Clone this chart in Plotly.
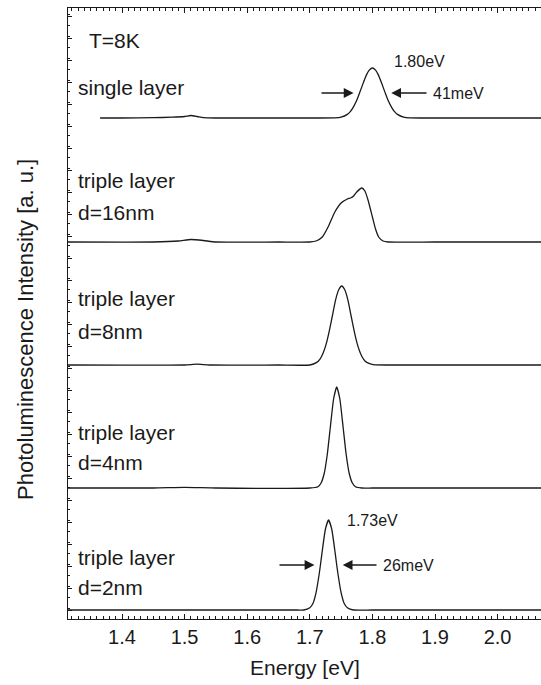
import plotly.graph_objects as go

# ---- photoluminescence spectra at T = 8 K (energy in eV, intensity in a.u. above each baseline)
single_E = [1.365, 1.40, 1.45, 1.48, 1.50, 1.51, 1.52, 1.53, 1.55, 1.60, 1.70, 1.74, 1.75,
            1.76, 1.765, 1.77, 1.775, 1.78, 1.785, 1.79, 1.795, 1.80, 1.805, 1.81, 1.815,
            1.82, 1.825, 1.83, 1.835, 1.84, 1.85, 1.86, 1.88, 1.95, 2.07]
single_I = [0, 0, 0.3, 0.8, 1.5, 2.5, 1.5, 0.3, 0, 0, 0, 0.1, 0.8,
            3.6, 6.6, 11.4, 17.7, 25.9, 34.4, 42.4, 47.9, 50, 47.9, 42.4, 34.4,
            25.9, 17.7, 11.4, 6.6, 3.6, 0.8, 0.1, 0, 0, 0]

d16_E = [1.31, 1.45, 1.49, 1.51, 1.53, 1.55, 1.65, 1.70, 1.71, 1.72, 1.73, 1.74, 1.75,
         1.76, 1.765, 1.77, 1.775, 1.783, 1.788, 1.793, 1.80, 1.805, 1.81, 1.817, 1.825,
         1.90, 2.07]
d16_I = [0, 0, 1, 2.5, 1.5, 0, 0, 0, 1, 5, 16, 30, 39,
         43, 44, 46, 50, 54, 51, 42, 25, 13, 5, 1, 0,
         0, 0]

d8_E = [1.31, 1.50, 1.52, 1.54, 1.65, 1.70, 1.711, 1.716, 1.721, 1.726, 1.731, 1.736,
        1.741, 1.746, 1.751, 1.756, 1.761, 1.766, 1.771, 1.776, 1.781, 1.786, 1.791,
        1.801, 1.85, 2.07]
d8_I = [0, 0, 0.8, 0, 0, 0, 2.6, 5.7, 11.6, 20.6, 33.6, 49,
        64.6, 75, 79, 75, 64.6, 49, 33.6, 20.6, 11.6, 5.7, 2.6,
        0.4, 0, 0]

d4_E = [1.31, 1.45, 1.50, 1.55, 1.70, 1.713, 1.718, 1.723, 1.728, 1.733, 1.738, 1.743,
        1.748, 1.753, 1.758, 1.763, 1.768, 1.773, 1.783, 1.80, 2.07]
d4_I = [0, 0, 0.6, 0, 0, 1.3, 5, 14.5, 34, 62, 89, 101,
        89, 62, 34, 14.5, 5, 1.3, 0, 0, 0]

d2_E = [1.31, 1.50, 1.68, 1.69, 1.70, 1.705, 1.71, 1.715, 1.717, 1.72, 1.725, 1.73,
        1.735, 1.74, 1.743, 1.745, 1.75, 1.755, 1.76, 1.77, 1.80, 2.07]
d2_I = [0, 0, 0, 0, 2.3, 6.5, 17.4, 36, 45, 59.5, 81, 90,
        81, 59.5, 45, 36, 17.4, 6.5, 2.3, 0, 0, 0]

spectra_E = [single_E, d16_E, d8_E, d4_E, d2_E]
spectra_I = [single_I, d16_I, d8_I, d4_I, d2_I]
baselines = [501, 377, 254, 131, 9]          # vertical offset of each trace
sample_lines = [["single layer"],
                ["triple layer", "d=16nm"],
                ["triple layer", "d=8nm"],
                ["triple layer", "d=4nm"],
                ["triple layer", "d=2nm"]]
x_ticks = [1.4, 1.5, 1.6, 1.7, 1.8, 1.9, 2.0]
x_tick_text = ["1.4", "1.5", "1.6", "1.7", "1.8", "1.9", "2.0"]

# ---- layout geometry (pixels in a 541 x 685 page)
W, H = 541, 685
PL, PR, PT, PB = 68, 541, 8, 619
PX_PER_EV = 626.0
E_LO = 1.4 - (122 - PL) / PX_PER_EV
E_HI = E_LO + (PR - PL) / PX_PER_EV
Y_HI = PB - PT

def ex(px):
    return E_LO + (px - PL) / PX_PER_EV

def vy(py):
    return PB - py

FONT = "Liberation Sans, Arial, sans-serif"
INK = "#1a1a1a"
LABEL_SIZE = 21

fig = go.Figure()
for E, I, b in zip(spectra_E, spectra_I, baselines):
    fig.add_trace(go.Scatter(
        x=E, y=[b + v for v in I], mode="lines",
        line=dict(color=INK, width=1.3, shape="spline", smoothing=0.5),
        hoverinfo="skip", showlegend=False))

ann = []
# sample labels
label_rows = [[87], [180, 212], [298, 331], [432, 462], [557, 587]]
for lines, rows in zip(sample_lines, label_rows):
    for txt, py in zip(lines, rows):
        ann.append(dict(x=ex(76), y=vy(py), text=txt, xanchor="left", yanchor="middle",
                        showarrow=False, font=dict(size=LABEL_SIZE, family=FONT, color=INK)))
ann.append(dict(x=ex(87), y=vy(40), text="T=8K", xanchor="left", yanchor="middle",
                showarrow=False, font=dict(size=LABEL_SIZE, family=FONT, color=INK)))

# peak position labels
ann.append(dict(x=ex(392), y=vy(61), text="1.80eV", xanchor="left", yanchor="middle",
                showarrow=False, font=dict(size=16, family=FONT, color=INK)))
ann.append(dict(x=ex(345), y=vy(520), text="1.73eV", xanchor="left", yanchor="middle",
                showarrow=False, font=dict(size=16, family=FONT, color=INK)))

# FWHM markers: arrows pointing at the half-maximum on each side of the peak
def fwhm(center, width, height, base, left_tail, right_tail, label):
    yh = base + height / 2
    lo, hi = center - width / 2, center + width / 2
    for tip, tail in ((lo, left_tail), (hi, right_tail)):
        ann.append(dict(x=tip, y=yh, ax=tail, ay=yh, axref="x", ayref="y",
                        xref="x", yref="y", text="", showarrow=True,
                        arrowhead=2, arrowsize=1.4, arrowwidth=1.4,
                        arrowcolor=INK, standoff=6))
    ann.append(dict(x=right_tail + 0.004, y=yh, text=label, xanchor="left",
                    yanchor="middle", showarrow=False,
                    font=dict(size=16, family=FONT, color=INK)))

fwhm(1.80, 0.041, 50, baselines[0], ex(320), ex(428), "41meV")
fwhm(1.73, 0.026, 90, baselines[4], ex(278), ex(378), "26meV")

# axis titles
ann.append(dict(x=(305 - PL) / (PR - PL), y=-(668 - PB) / (PB - PT), xref="paper", yref="paper",
                text="Energy [eV]", showarrow=False, xanchor="center", yanchor="middle",
                font=dict(size=21, family=FONT, color=INK)))
ann.append(dict(x=-(PL - 25) / (PR - PL), y=(PB - 330) / (PB - PT), xref="paper", yref="paper",
                text="Photoluminescence Intensity [a. u.]", textangle=-90, showarrow=False,
                xanchor="center", yanchor="middle",
                font=dict(size=22, family=FONT, color=INK)))

fig.update_layout(
    width=W, height=H,
    margin=dict(l=PL, r=W - PR, t=PT, b=H - PB),
    paper_bgcolor="white", plot_bgcolor="white",
    annotations=ann,
    font=dict(family=FONT, color=INK),
    xaxis=dict(
        range=[E_LO, E_HI], tickvals=x_ticks, ticktext=x_tick_text,
        ticks="inside", ticklen=5, tickwidth=1.2, tickcolor=INK,
        tickfont=dict(size=20, family=FONT, color=INK),
        minor=dict(dtick=0.01, ticks="inside", ticklen=2.5, tickwidth=1, tickcolor=INK),
        showline=True, linecolor=INK, linewidth=1.3, mirror="ticks",
        showgrid=False, zeroline=False,
    ),
    yaxis=dict(
        range=[0, Y_HI], tick0=9, dtick=22, showticklabels=False,
        ticks="inside", ticklen=4, tickwidth=1.2, tickcolor=INK,
        minor=dict(dtick=11, ticks="inside", ticklen=2, tickwidth=1, tickcolor=INK),
        showline=True, linecolor=INK, linewidth=1.3, mirror=False,
        showgrid=False, zeroline=False,
    ),
)

fig.write_html("out.html")
